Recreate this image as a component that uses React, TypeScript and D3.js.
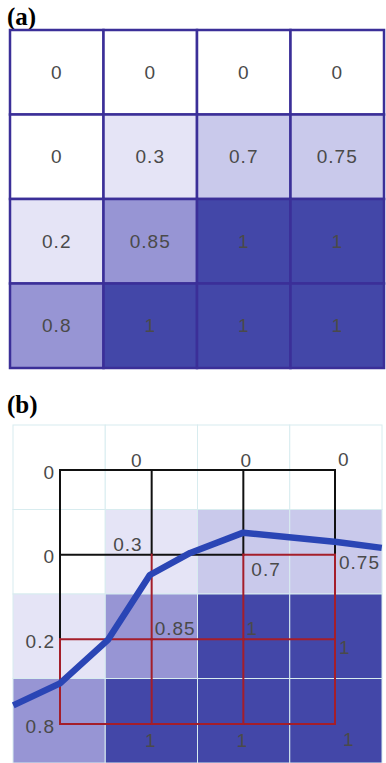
import * as d3 from "d3";

// cell values, row by row (top to bottom)
const row1 = [0, 0, 0, 0];
const row2 = [0, 0.3, 0.7, 0.75];
const row3 = [0.2, 0.85, 1, 1];
const row4 = [0.8, 1, 1, 1];
const values = [row1, row2, row3, row4];
const labels = values.map((r) => r.map((v) => String(v)));

// overlay edge colours: k = black, r = red
const hEdges = [
  ["k", "k", "k"],
  ["k", "k", "r"],
  ["r", "r", "r"],
  ["r", "r", "r"],
];
const vEdges = [
  ["k", "k", "k", "k"],
  ["k", "r", "r", "r"],
  ["r", "r", "r", "r"],
];

// where each node label sits relative to its node
const placements = [
  ["l", "ul", "u", "ur"],
  ["l", "ul", "dr", "r"],
  ["l", "ur", "ur", "r"],
  ["l", "d", "d", "dr"],
];

// 0.5 contour, in node-grid units
const curveX = [-0.51, 0, 0.52, 0.98, 1.42, 2.0, 3.02, 3.51];
const curveY = [2.78, 2.52, 2.01, 1.24, 0.98, 0.74, 0.85, 0.92];

const idx = [0, 1, 2, 3];

const color = d3
  .scaleThreshold<number, string>()
  .domain([0.1, 0.5, 0.78, 0.95])
  .range(["#ffffff", "#e5e4f6", "#c9c9eb", "#9795d4", "#4347a8"]);

const font = "'Liberation Sans', Arial, sans-serif";
const txt = "#4a4a4a";

const offsets: Record<string, [string, number, number]> = {
  l: ["end", -5, 2],
  ul: ["end", -9, -10],
  u: ["middle", 3, -10],
  ur: ["start", 3, -11],
  r: ["start", 4, 8],
  dr: ["start", 8, 15],
  d: ["middle", -1, 16],
};

export default function App() {
  const xA = d3.scaleBand<number>().domain(idx).range([10, 384]);
  const yA = d3.scaleBand<number>().domain(idx).range([30, 368]);
  const xB = d3.scaleBand<number>().domain(idx).range([13, 382]);
  const yB = d3.scaleBand<number>().domain(idx).range([425, 763]);
  const xN = d3.scaleLinear().domain([0, 3]).range([60, 335]);
  const yN = d3.scaleLinear().domain([0, 3]).range([470, 724]);

  const line = d3
    .line<number>()
    .x((i) => xN(curveX[i]))
    .y((i) => yN(curveY[i]));

  const edgeColor = (c: string) => (c === "r" ? "#a41e2a" : "#111");

  const edges: { x1: number; y1: number; x2: number; y2: number; c: string }[] = [];
  hEdges.forEach((r, j) =>
    r.forEach((c, i) =>
      edges.push({ x1: xN(i), y1: yN(j), x2: xN(i + 1), y2: yN(j), c })
    )
  );
  vEdges.forEach((r, j) =>
    r.forEach((c, i) =>
      edges.push({ x1: xN(i), y1: yN(j), x2: xN(i), y2: yN(j + 1), c })
    )
  );
  edges.sort((a, b) => (a.c === b.c ? 0 : a.c === "k" ? -1 : 1));

  return (
    <svg
      width={386}
      height={763}
      style={{ position: "absolute", left: 0, top: 0, background: "#fff" }}
    >
      <text x={7} y={25} fontFamily="'Liberation Serif', serif" fontWeight="bold" fontSize={25}>
        (a)
      </text>
      {values.map((r, j) =>
        r.map((v, i) => (
          <g key={`a${j}-${i}`}>
            <rect
              x={xA(i)}
              y={yA(j)}
              width={xA.bandwidth()}
              height={yA.bandwidth()}
              fill={color(v)}
              stroke="#3b2f98"
              strokeWidth={2.5}
            />
            <text
              x={xA(i)! + xA.bandwidth() / 2}
              y={yA(j)! + yA.bandwidth() / 2}
              textAnchor="middle"
              dominantBaseline="central"
              fontFamily={font}
              fontSize={19}
              letterSpacing={1}
              fill={txt}
            >
              {labels[j][i]}
            </text>
          </g>
        ))
      )}

      <text x={7} y={413} fontFamily="'Liberation Serif', serif" fontWeight="bold" fontSize={25}>
        (b)
      </text>
      {values.map((r, j) =>
        r.map((v, i) => (
          <rect
            key={`b${j}-${i}`}
            x={xB(i)}
            y={yB(j)}
            width={xB.bandwidth()}
            height={yB.bandwidth()}
            fill={color(v)}
            stroke="#d8ecef"
            strokeWidth={1}
          />
        ))
      )}
      {edges.map((e, k) => (
        <line key={k} {...e} stroke={edgeColor(e.c)} strokeWidth={2} strokeLinecap="square" />
      ))}
      <path
        d={line(curveX.map((_, i) => i)) ?? ""}
        fill="none"
        stroke="#2a45b5"
        strokeWidth={6.5}
        strokeLinejoin="round"
      />
      {labels.map((r, j) =>
        r.map((s, i) => {
          const [anchor, dx, dy] = offsets[placements[j][i]];
          return (
            <text
              key={`n${j}-${i}`}
              x={xN(i) + dx}
              y={yN(j) + dy}
              textAnchor={anchor}
              dominantBaseline="central"
              fontFamily={font}
              fontSize={19}
              letterSpacing={1}
              fill={txt}
            >
              {s}
            </text>
          );
        })
      )}
    </svg>
  );
}
